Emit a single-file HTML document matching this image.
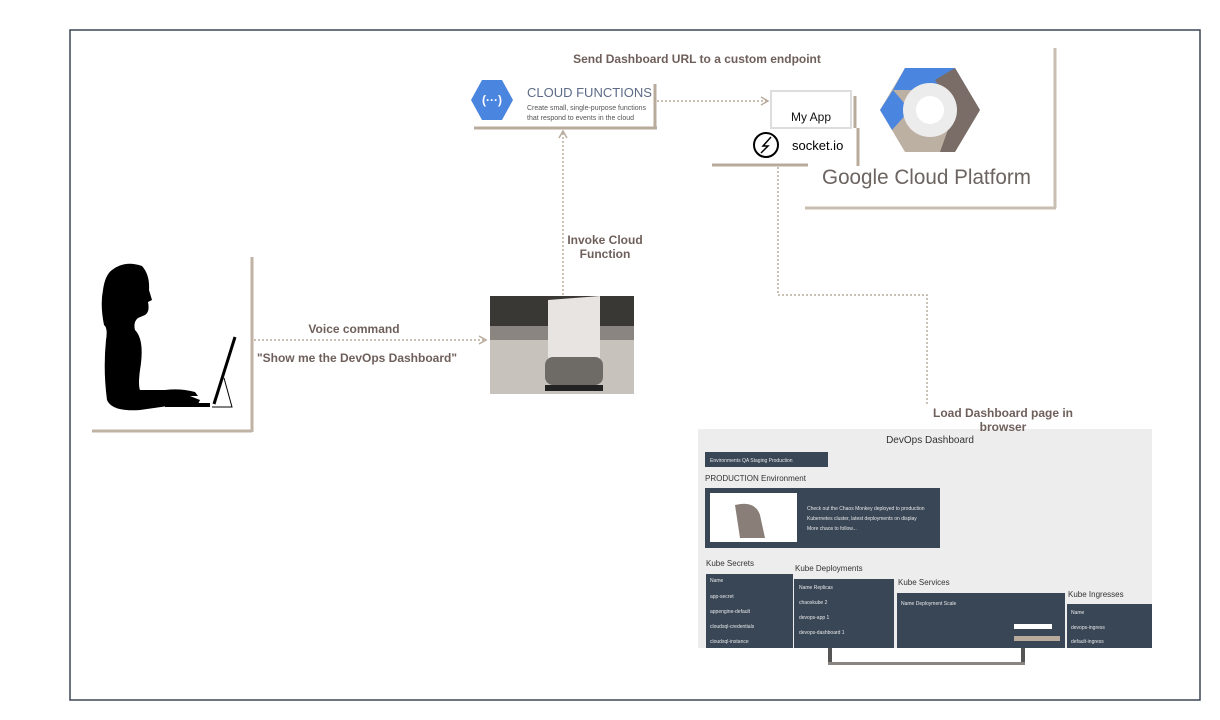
<!DOCTYPE html>
<html><head><meta charset="utf-8"><style>
html,body{margin:0;padding:0;background:#fff;}
svg{display:block;}
.lbl{font-family:"Liberation Sans",sans-serif;font-weight:bold;font-size:12px;fill:#6e5f5a;}
.d{font-family:"Liberation Sans",sans-serif;font-size:5px;fill:#e8e8e8;}
</style></head><body>
<svg width="1220" height="720" viewBox="0 0 1220 720" xmlns="http://www.w3.org/2000/svg">
<defs>
<marker id="ar" markerWidth="10" markerHeight="10" refX="8" refY="5" orient="auto" markerUnits="userSpaceOnUse">
<path d="M1,1 L8,5 L1,9" fill="none" stroke="#b8ab9c" stroke-width="1.5"/></marker>
</defs>
<rect x="70" y="30" width="1130" height="670" fill="none" stroke="#3b4656" stroke-width="1.5"/>

<!-- Person -->
<line x1="252" y1="257" x2="252" y2="432" stroke="#c0b3a5" stroke-width="3"/>
<line x1="92" y1="431" x2="252" y2="431" stroke="#c0b3a5" stroke-width="3"/>
<path d="M112,270 Q125,260 142,266 Q150,275 149,290 L152,300 L148,302 Q150,312 145,315 L138,318 Q133,322 135,330 Q145,340 140,370 Q138,385 140,390 L165,390 Q180,388 195,392 L198,396 L190,396 L200,400 L198,404 L175,405 L140,410 Q112,412 107,400 Q103,370 106,340 Q108,328 104,325 Q100,305 103,290 Q105,275 112,270 Z" fill="#000"/>
<rect x="165" y="403" width="45" height="4" fill="#000"/>
<line x1="235" y1="337" x2="214" y2="404" stroke="#000" stroke-width="3"/>
<path d="M224,378 L232,407 L212,407" fill="none" stroke="#000" stroke-width="1"/>

<!-- voice arrow -->
<line x1="254" y1="340" x2="486" y2="340" stroke="#b8ab9c" stroke-width="1.5" stroke-dasharray="2,2" marker-end="url(#ar)"/>
<text class="lbl" x="354" y="333" text-anchor="middle">Voice command</text>
<text class="lbl" x="357" y="362" text-anchor="middle">"Show me the DevOps Dashboard"</text>

<!-- speaker photo -->
<rect x="490" y="296" width="144" height="98" fill="#8a8580"/>
<rect x="490" y="296" width="144" height="30" fill="#3a3835"/>
<rect x="490" y="340" width="144" height="54" fill="#c8c2bc"/>
<path d="M548,300 L600,296 L600,362 L548,362 Z" fill="#e8e4e2"/>
<rect x="545" y="357" width="58" height="28" rx="8" fill="#6e6a66"/>
<rect x="545" y="385" width="58" height="6" fill="#222"/>

<!-- invoke arrow -->
<line x1="563" y1="295" x2="563" y2="131" stroke="#b8ab9c" stroke-width="1.5" stroke-dasharray="2,2" marker-end="url(#ar)"/>
<text class="lbl" x="605" y="244" text-anchor="middle">Invoke Cloud</text>
<text class="lbl" x="605" y="258" text-anchor="middle">Function</text>

<!-- Cloud functions -->
<line x1="655" y1="84" x2="655" y2="128" stroke="#b8ab9c" stroke-width="3"/>
<line x1="474" y1="128" x2="657" y2="128" stroke="#b8ab9c" stroke-width="3"/>
<polygon points="482,80 502,80 513,100 502,120 482,120 471,100" fill="#4a86e0"/>
<text x="492" y="104" text-anchor="middle" font-family="Liberation Sans,sans-serif" font-size="12" font-weight="bold" fill="#fff">(···)</text>
<text x="527" y="97" font-family="Liberation Sans,sans-serif" font-size="13" fill="#5d6b86">CLOUD FUNCTIONS</text>
<text x="527" y="110" font-family="Liberation Sans,sans-serif" font-size="7" fill="#555">Create small, single-purpose functions</text>
<text x="527" y="120" font-family="Liberation Sans,sans-serif" font-size="7" fill="#555">that respond to events in the cloud</text>

<text class="lbl" x="697" y="63" text-anchor="middle">Send Dashboard URL to a custom endpoint</text>
<line x1="657" y1="101" x2="768" y2="101" stroke="#b8ab9c" stroke-width="1.5" stroke-dasharray="2,2" marker-end="url(#ar)"/>

<!-- My App -->
<rect x="771" y="91" width="80" height="37" fill="#fff" stroke="#ddd" stroke-width="2"/>
<line x1="855" y1="96" x2="855" y2="128" stroke="#b8ab9c" stroke-width="3"/>
<text x="811" y="121" text-anchor="middle" font-family="Liberation Sans,sans-serif" font-size="12" fill="#111">My App</text>
<line x1="858" y1="128" x2="858" y2="166" stroke="#b8ab9c" stroke-width="3"/>
<line x1="712" y1="165" x2="808" y2="165" stroke="#b8ab9c" stroke-width="3"/>
<circle cx="766" cy="145" r="12" fill="none" stroke="#000" stroke-width="2"/>
<path d="M771,137 L763,146 L768,146 L761,153" fill="none" stroke="#000" stroke-width="1.5"/>
<text x="792" y="150" font-family="Liberation Sans,sans-serif" font-size="13" fill="#000">socket.io</text>

<!-- GCP -->
<line x1="1055" y1="48" x2="1055" y2="208" stroke="#c8beb2" stroke-width="3"/>
<line x1="805" y1="208" x2="1056" y2="208" stroke="#c8beb2" stroke-width="3"/>
<polygon points="905,68 955,68 980,110 955,152 905,152 880,110" fill="#bcb0a2"/>
<polygon points="905,68 955,68 968,90 893,90" fill="#4a86e0"/>
<polygon points="893,90 880,110 892,130 910,110" fill="#4a86e0"/>
<polygon points="955,68 980,110 955,152 940,152 955,110 935,80" fill="#7a6c66"/>
<circle cx="930" cy="110" r="27" fill="#ececec"/>
<circle cx="930" cy="110" r="14" fill="#fff"/>
<text x="822" y="184" font-family="Liberation Sans,sans-serif" font-size="21" fill="#6b6460" textLength="209" lengthAdjust="spacingAndGlyphs">Google Cloud Platform</text>

<!-- socket to dashboard -->
<polyline points="778,167 778,295 927,295 927,405" fill="none" stroke="#b8ab9c" stroke-width="1.5" stroke-dasharray="2,2"/>

<!-- dashboard -->
<rect x="698" y="429" width="454" height="219" fill="#ededee"/>
<text x="930" y="443" text-anchor="middle" font-family="Liberation Sans,sans-serif" font-size="10" fill="#333">DevOps Dashboard</text>
<rect x="705" y="452" width="123" height="15" fill="#384656"/>
<text class="d" x="710" y="462">Environments   QA   Staging   Production</text>
<text x="705" y="481" font-family="Liberation Sans,sans-serif" font-size="8" fill="#333">PRODUCTION Environment</text>
<rect x="705" y="488" width="235" height="60" fill="#384656"/>
<rect x="710" y="493" width="87" height="49" fill="#fff"/>
<path d="M735,505 Q755,500 760,515 L765,538 L740,538 Z" fill="#8a7f78"/>
<text class="d" x="807" y="510">Check out the Chaos Monkey deployed to production</text>
<text class="d" x="807" y="520">Kubernetes cluster, latest deployments on display</text>
<text class="d" x="807" y="530">More chaos to follow...</text>
<text x="706" y="566" font-family="Liberation Sans,sans-serif" font-size="8" fill="#333">Kube Secrets</text>
<rect x="706" y="574" width="87" height="74" fill="#384656"/>
<text class="d" x="710" y="582">Name</text><text class="d" x="710" y="598">app-secret</text><text class="d" x="710" y="613">appengine-default</text><text class="d" x="710" y="628">cloudsql-credentials</text><text class="d" x="710" y="643">cloudsql-instance</text>
<text x="795" y="571" font-family="Liberation Sans,sans-serif" font-size="8" fill="#333">Kube Deployments</text>
<rect x="794" y="579" width="100" height="69" fill="#384656"/>
<text class="d" x="799" y="589">Name          Replicas</text><text class="d" x="799" y="604">chaoskube  2</text><text class="d" x="799" y="619">devops-app  1</text><text class="d" x="799" y="634">devops-dashboard  1</text>
<text x="898" y="585" font-family="Liberation Sans,sans-serif" font-size="8" fill="#333">Kube Services</text>
<rect x="897" y="593" width="168" height="55" fill="#384656"/>
<text class="d" x="901" y="605">Name    Deployment    Scale</text>
<rect x="1014" y="624" width="38" height="5" fill="#fff"/>
<rect x="1014" y="636" width="46" height="5" fill="#b8ab9c"/>
<text x="1068" y="597" font-family="Liberation Sans,sans-serif" font-size="8" fill="#333">Kube Ingresses</text>
<rect x="1067" y="604" width="85" height="44" fill="#384656"/>
<text class="d" x="1071" y="614">Name</text><text class="d" x="1071" y="629">devops-ingress</text><text class="d" x="1071" y="643">default-ingress</text>
<!-- stand -->
<rect x="828" y="648" width="4" height="17" fill="#555"/>
<rect x="1021" y="648" width="4" height="17" fill="#555"/>
<rect x="828" y="662" width="197" height="3" fill="#8a8580"/>

<text class="lbl" x="1003" y="417" text-anchor="middle">Load Dashboard page in</text>
<text class="lbl" x="1003" y="431" text-anchor="middle">browser</text>
</svg>
</body></html>
